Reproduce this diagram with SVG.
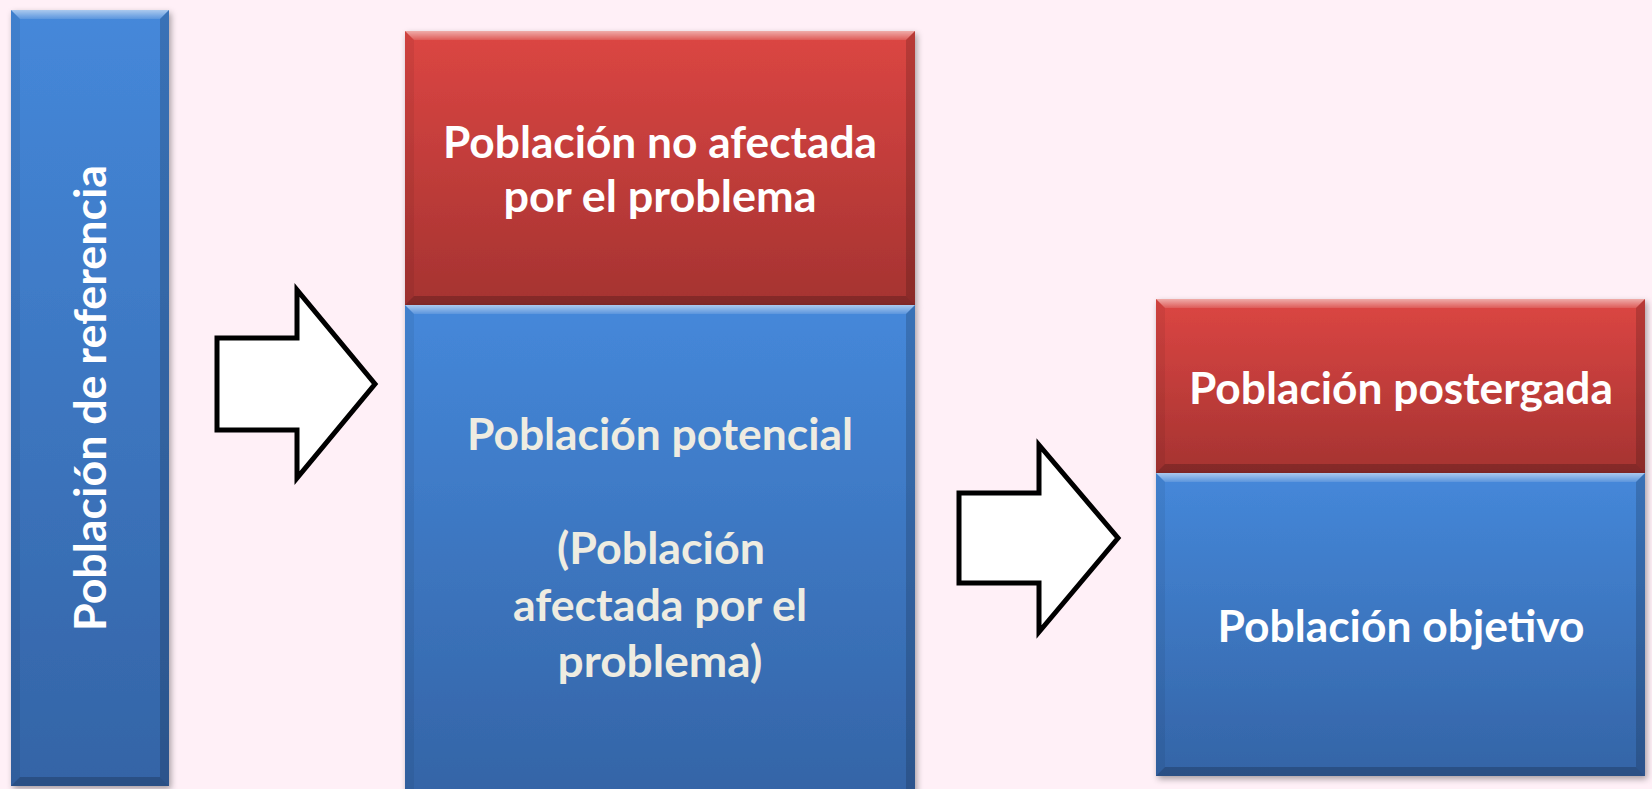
<svg xmlns="http://www.w3.org/2000/svg" width="1652" height="789" viewBox="0 0 1652 789">
<defs>
<linearGradient id="gBlue" x1="0" y1="0" x2="0" y2="1">
<stop offset="0" stop-color="#4588DA"/>
<stop offset="1" stop-color="#3464A6"/>
</linearGradient>
<linearGradient id="gRed" x1="0" y1="0" x2="0" y2="1">
<stop offset="0" stop-color="#DC4643"/>
<stop offset="1" stop-color="#A53331"/>
</linearGradient>
<linearGradient id="gTop" x1="0" y1="0" x2="0" y2="1">
<stop offset="0" stop-color="#FFFFFF" stop-opacity="0.55"/>
<stop offset="1" stop-color="#FFFFFF" stop-opacity="0.12"/>
</linearGradient>
<filter id="sh" x="-10%" y="-10%" width="120%" height="120%">
<feDropShadow dx="2" dy="3" stdDeviation="3" flood-color="#000" flood-opacity="0.35"/>
</filter>
</defs>
<style>
.bg{fill:#FFF0F7}
.blue{fill:url(#gBlue)}
.red{fill:url(#gRed)}
.bt{fill:url(#gTop)}
.bl{fill:#000;fill-opacity:0.06}
.br{fill:#000;fill-opacity:0.16}
.bb{fill:#000;fill-opacity:0.2}
.t{font-family:Lato,"Open Sans","Liberation Sans",sans-serif;font-weight:bold;font-size:43px;fill:#FFFFFF;text-anchor:middle}
.c{fill:#EEECE1}
.arrow{fill:#FFFFFF;stroke:#000;stroke-width:5;stroke-linejoin:miter}
</style>
<rect class="bg" x="0" y="0" width="1652" height="789"/>

<g id="referencia">
<rect class="blue" x="11" y="10" width="158" height="776" filter="url(#sh)"/>
<polygon class="bt" points="11,10 169,10 160,19 20,19"/>
<polygon class="bl" points="11,10 20,19 20,777 11,786"/>
<polygon class="br" points="169,10 169,786 160,777 160,19"/>
<polygon class="bb" points="11,786 20,777 160,777 169,786"/>
<text class="t" x="106" y="398" transform="rotate(-90 106 398)" textLength="466" lengthAdjust="spacingAndGlyphs">Población de referencia</text>
</g>

<g id="no-afectada">
<rect class="red" x="405" y="31" width="510" height="274" filter="url(#sh)"/>
<polygon class="bt" points="405,31 915,31 906,40 414,40"/>
<polygon class="bl" points="405,31 414,40 414,296 405,305"/>
<polygon class="br" points="915,31 915,305 906,296 906,40"/>
<polygon class="bb" points="405,305 414,296 906,296 915,305"/>
<text class="t" x="660" y="158" textLength="434" lengthAdjust="spacingAndGlyphs">Población no afectada</text>
<text class="t" x="660" y="212" textLength="313" lengthAdjust="spacingAndGlyphs">por el problema</text>
</g>

<g id="potencial">
<rect class="blue" x="405" y="305" width="510" height="493" filter="url(#sh)"/>
<polygon class="bt" points="405,305 915,305 906,314 414,314"/>
<polygon class="bl" points="405,305 414,314 414,789 405,798"/>
<polygon class="br" points="915,305 915,798 906,789 906,314"/>
<text class="t c" x="660" y="450" textLength="386" lengthAdjust="spacingAndGlyphs">Población potencial</text>
<text class="t c" x="661" y="564" textLength="208" lengthAdjust="spacingAndGlyphs">(Población</text>
<text class="t c" x="660" y="621" textLength="294" lengthAdjust="spacingAndGlyphs">afectada por el</text>
<text class="t c" x="660" y="677" textLength="205" lengthAdjust="spacingAndGlyphs">problema)</text>
</g>

<g id="postergada">
<rect class="red" x="1156" y="299" width="489" height="174" filter="url(#sh)"/>
<polygon class="bt" points="1156,299 1645,299 1636,308 1165,308"/>
<polygon class="bl" points="1156,299 1165,308 1165,464 1156,473"/>
<polygon class="br" points="1645,299 1645,473 1636,464 1636,308"/>
<polygon class="bb" points="1156,473 1165,464 1636,464 1645,473"/>
<text class="t" x="1401" y="404" textLength="424" lengthAdjust="spacingAndGlyphs">Población postergada</text>
</g>

<g id="objetivo">
<rect class="blue" x="1156" y="473" width="489" height="303" filter="url(#sh)"/>
<polygon class="bt" points="1156,473 1645,473 1636,482 1165,482"/>
<polygon class="bl" points="1156,473 1165,482 1165,767 1156,776"/>
<polygon class="br" points="1645,473 1645,776 1636,767 1636,482"/>
<polygon class="bb" points="1156,776 1165,767 1636,767 1645,776"/>
<text class="t" x="1401" y="642" textLength="367" lengthAdjust="spacingAndGlyphs">Población objetivo</text>
</g>

<g id="connectors">
<polygon class="arrow" points="217,338 297,338 297,290 375,384 297,478 297,430 217,430"/>
<polygon class="arrow" points="959,493 1039,493 1039,445 1118,538 1039,632 1039,583 959,583"/>
</g>
</svg>
